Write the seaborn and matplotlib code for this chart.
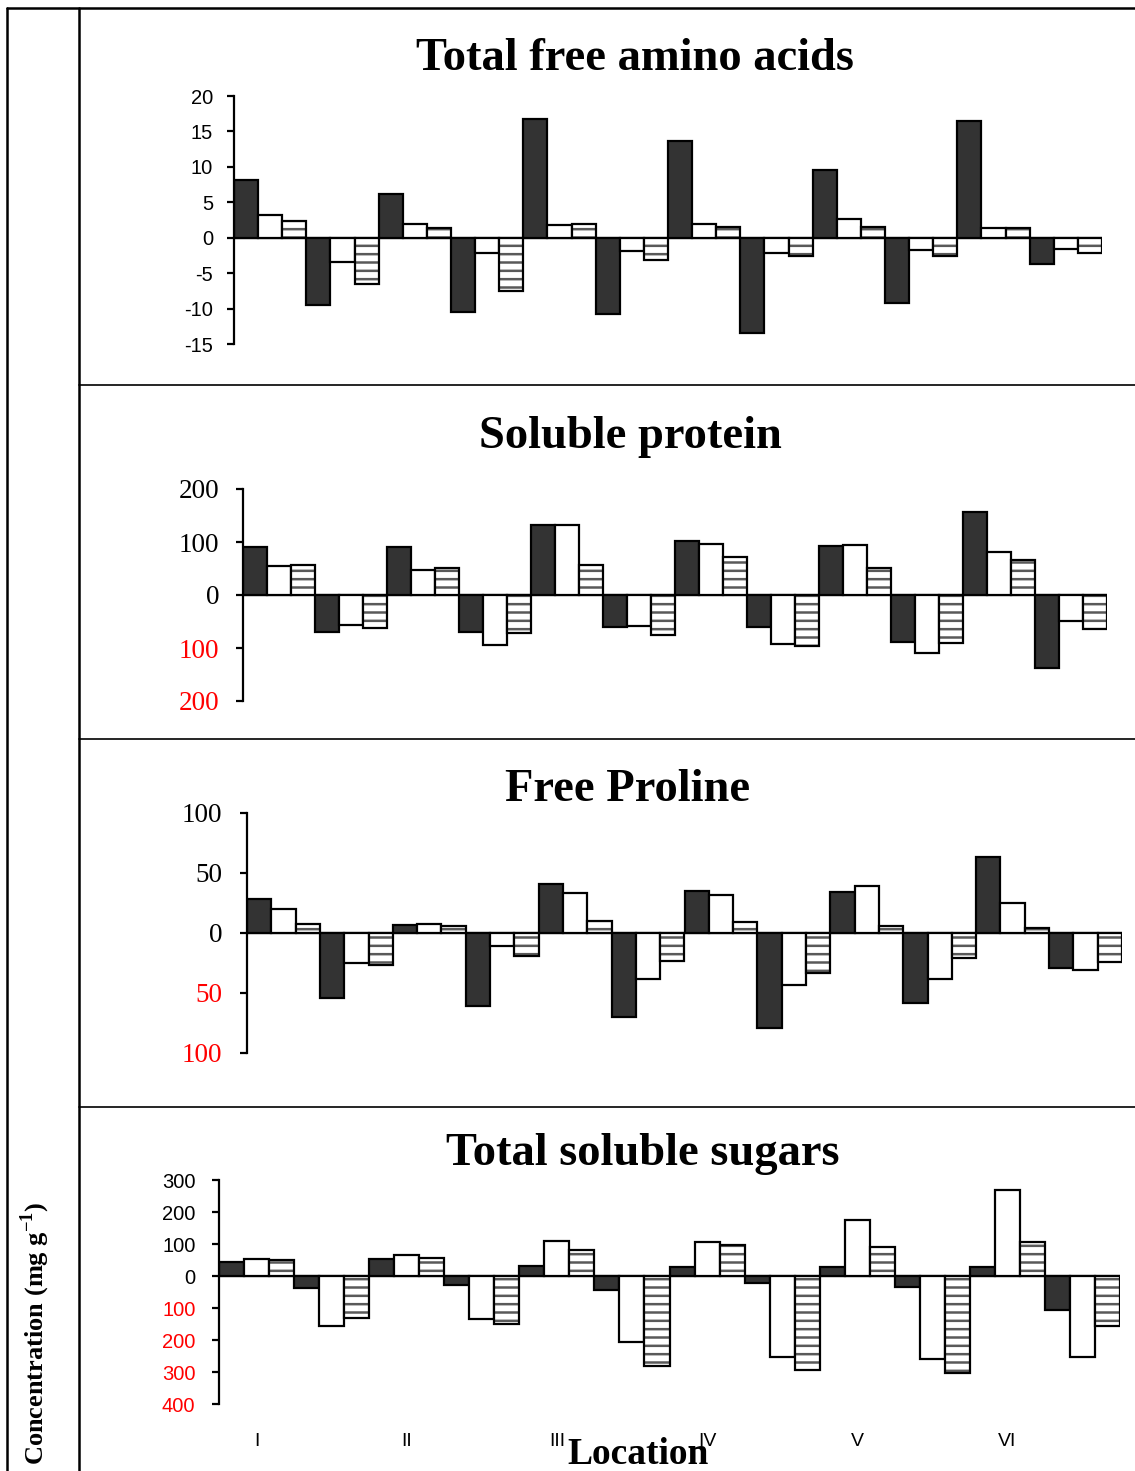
import numpy as np
import pandas as pd
import matplotlib
matplotlib.use("Agg")
import matplotlib.pyplot as plt
from matplotlib.lines import Line2D
import seaborn as sns

# ---------------- data ----------------
locations = ["I", "II", "III", "IV", "V", "VI"]
groups = ["I+", "I-", "II+", "II-", "III+", "III-", "IV+", "IV-", "V+", "V-", "VI+", "VI-"]
series = ["S1", "S2", "S3"]

amino_s1 = [8.2, -9.5, 6.2, -10.5, 16.8, -10.7, 13.6, -13.4, 9.5, -9.2, 16.5, -3.7]
amino_s2 = [3.2, -3.4, 2.0, -2.1, 1.8, -1.9, 2.0, -2.1, 2.7, -1.7, 1.4, -1.6]
amino_s3 = [2.4, -6.5, 1.4, -7.5, 2.0, -3.2, 1.5, -2.6, 1.5, -2.6, 1.4, -2.1]

protein_s1 = [90, -70, 90, -69, 132, -61, 101, -60, 93, -89, 157, -138]
protein_s2 = [54, -57, 48, -95, 132, -58, 96, -92, 95, -110, 82, -49]
protein_s3 = [56, -62, 51, -72, 57, -76, 72, -97, 51, -91, 66, -64]

proline_s1 = [28, -54, 6.4, -61, 41, -70, 35, -79, 34, -58, 63, -29]
proline_s2 = [20, -25, 7.8, -11, 33, -38, 32, -43, 39, -38, 25, -31]
proline_s3 = [7.2, -26.5, 5.6, -19, 10, -23, 9, -33, 5.8, -21, 4.5, -24]

sugar_s1 = [45, -36, 53, -28, 30, -44, 27, -23, 29, -33, 29, -107]
sugar_s2 = [54, -156, 65, -135, 108, -207, 106, -252, 175, -258, 269, -254]
sugar_s3 = [49, -130, 57, -150, 81, -280, 97, -294, 91, -303, 105, -157]

amino_ticks = [-15, -10, -5, 0, 5, 10, 15, 20]
protein_ticks = [-200, -100, 0, 100, 200]
proline_ticks = [-100, -50, 0, 50, 100]
sugar_ticks = [-400, -300, -200, -100, 0, 100, 200, 300]

titles = ["Total free amino acids", "Soluble protein", "Free Proline", "Total soluble sugars"]

# ---------------- style ----------------
sns.set_theme(style="white")
plt.rcParams["font.family"] = ["Liberation Sans", "DejaVu Sans"]
plt.rcParams["text.color"] = "black"
plt.rcParams["hatch.linewidth"] = 1.8
plt.rcParams["mathtext.fontset"] = "custom"
plt.rcParams["mathtext.rm"] = "Liberation Serif"
plt.rcParams["mathtext.bf"] = "Liberation Serif:bold"

W, H = 1135, 1471
fig = plt.figure(figsize=(W / 100, H / 100), dpi=100)
fig.patch.set_facecolor("white")

palette = {"S1": "#333333", "S2": "white", "S3": "white"}
SERIF = ["Liberation Serif", "DejaVu Serif"]
SANS = ["Liberation Sans", "DejaVu Sans"]


def make_df(a, b, c):
    rows = []
    for s, vals in zip(series, [a, b, c]):
        for g, v in zip(groups, vals):
            rows.append({"group": g, "series": s, "value": v})
    return pd.DataFrame(rows)


def px_axes(left, right, top, bottom):
    return fig.add_axes([left / W, 1 - bottom / H, (right - left) / W, (bottom - top) / H])


def draw_panel(ax, df, ticks, font, fsize, pad, neg_red, minus_label):
    sns.barplot(data=df, x="group", y="value", hue="series", order=groups,
                hue_order=series, palette=palette, width=1.0, gap=0, dodge=True,
                edgecolor="black", linewidth=1.6, saturation=1, errorbar=None,
                legend=False, ax=ax)
    for p in ax.containers[2]:
        p.set_hatch("--")
        try:
            p._hatch_color = (0.35, 0.35, 0.35, 1.0)
        except Exception:
            pass
    ax.axhline(0, color="black", lw=1.6, zorder=0.5)
    ax.set_xlim(-0.5, len(groups) - 0.5)
    ax.set_ylim(ticks[0], ticks[-1])
    ax.set_yticks(ticks)
    labels = []
    for t in ticks:
        if t < 0:
            labels.append(f"-{abs(t)}" if minus_label else f"{abs(t)}")
        else:
            labels.append(f"{t}")
    ax.set_yticklabels(labels, fontfamily=font, fontsize=fsize)
    ax.set_xlabel("")
    ax.set_ylabel("")
    ax.set_facecolor("none")
    for s in ["top", "right", "bottom"]:
        ax.spines[s].set_visible(False)
    ax.spines["left"].set_linewidth(1.6)
    ax.spines["left"].set_color("black")
    ax.tick_params(axis="y", direction="out", length=5, width=1.6, color="black",
                   pad=pad, left=True, labelcolor="black")
    if neg_red:
        for t, lab in zip(ticks, ax.get_yticklabels()):
            if t < 0:
                lab.set_color("red")
    ax.tick_params(axis="x", length=0)
    ax.set_xticks([])


ax1 = px_axes(234, 1102, 96, 344)
draw_panel(ax1, make_df(amino_s1, amino_s2, amino_s3), amino_ticks, SANS, 14.5, 10, False, True)

ax2 = px_axes(243, 1107, 489, 701)
draw_panel(ax2, make_df(protein_s1, protein_s2, protein_s3), protein_ticks, SERIF, 19.5, 12, True, False)

ax3 = px_axes(247, 1122, 813, 1053)
draw_panel(ax3, make_df(proline_s1, proline_s2, proline_s3), proline_ticks, SERIF, 19.5, 13, True, False)

ax4 = px_axes(219, 1120, 1180, 1404)
draw_panel(ax4, make_df(sugar_s1, sugar_s2, sugar_s3), sugar_ticks, SANS, 14.5, 12, True, False)
ax4.set_xticks([0, 2, 4, 6, 8, 10])
ax4.set_xticklabels(locations, fontfamily=SANS, fontsize=14)
ax4.tick_params(axis="x", length=0, pad=21, labelcolor="black")

# ---------------- titles ----------------
title_pos = [(635, 59), (630, 437), (628, 790), (643, 1154)]
for t, (x, y) in zip(titles, title_pos):
    fig.text(x / W, 1 - y / H, t, ha="center", va="center", fontfamily=SERIF,
             fontweight="bold", fontsize=33.5, color="black")

fig.text(638 / W, 1 - 1454 / H, "Location", ha="center", va="center",
         fontfamily=SERIF, fontweight="bold", fontsize=27, color="black")
fig.text(35 / W, 1 - 1465 / H, r"Concentration (mg g$^{\mathbf{-1}}$)", rotation=90,
         ha="center", va="bottom", fontfamily=SERIF, fontweight="bold", fontsize=19,
         color="black")

# ---------------- table frame ----------------
def hline(y, x0, x1, lw):
    fig.add_artist(Line2D([x0 / W, x1 / W], [1 - y / H, 1 - y / H], color="black", lw=lw))


def vline(x, y0, y1, lw):
    fig.add_artist(Line2D([x / W, x / W], [1 - y0 / H, 1 - y1 / H], color="black", lw=lw))


hline(8, 7, 1135, 1.8)
vline(7, 8, 1471, 1.8)
vline(79, 8, 1471, 1.8)
for y in [385, 739, 1107]:
    hline(y, 79, 1135, 1.2)

fig.savefig("out.png", dpi=100, facecolor="white")
